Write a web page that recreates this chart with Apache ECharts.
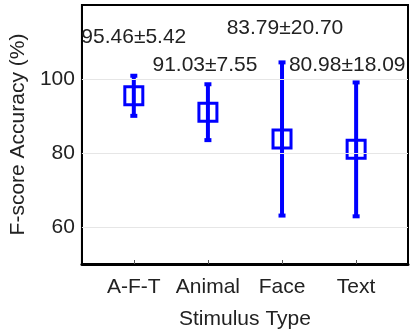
<!DOCTYPE html>
<html>
<head>
<meta charset="utf-8">
<script src="https://cdn.jsdelivr.net/npm/echarts@6/dist/echarts.min.js"></script>
<style>
html,body{margin:0;padding:0;background:#fff;}
#chart{width:410px;height:335px;}
</style>
</head>
<body>
<div id="chart"></div>
<script>
// ---- data ----
const categories = ['A-F-T', 'Animal', 'Face', 'Text'];
const means = [95.46, 91.03, 83.79, 80.98];
const stds = [5.42, 7.55, 20.70, 18.09];
const yTickLabels = [60, 80, 100];

// ---- layout (label anchors in axis coordinates) ----
const labelAnchors = [[1.0, 111.4], [1.96, 103.8], [3.04, 113.6], [3.88, 103.8]];

const FONT = '"Liberation Sans", Arial, Helvetica, sans-serif';
const BLUE = '#0000ff';
const TXT = '#222222';

const seriesData = means.map((m, i) => [i + 1, m, stds[i], i]);

function renderItem(params, api) {
  const x = api.value(0), m = api.value(1), s = api.value(2), idx = api.value(3);
  const top = api.coord([x, m + s]);
  const bot = api.coord([x, m - s]);
  const c = api.coord([x, m]);
  const half = 9;
  const capW = 7, capH = 4;
  const lbl = api.coord(labelAnchors[idx]);
  const label = m.toFixed(2) + '±' + s.toFixed(2);
  return {
    type: 'group',
    children: [
      { type: 'line', shape: { x1: c[0], y1: top[1], x2: c[0], y2: bot[1] },
        style: { stroke: BLUE, lineWidth: 4 } },
      { type: 'rect', shape: { x: c[0] - capW / 2, y: top[1] - capH / 2, width: capW, height: capH },
        style: { fill: BLUE } },
      { type: 'rect', shape: { x: c[0] - capW / 2, y: bot[1] - capH / 2, width: capW, height: capH },
        style: { fill: BLUE } },
      { type: 'rect', shape: { x: c[0] - half, y: c[1] - half, width: half * 2, height: half * 2 },
        style: { fill: 'rgba(0,0,0,0)', stroke: BLUE, lineWidth: 3 } },
      { type: 'text', x: lbl[0], y: lbl[1],
        style: { text: label, fill: TXT, font: '21px ' + FONT, align: 'center', verticalAlign: 'middle' } }
    ]
  };
}

const chart = echarts.init(document.getElementById('chart'), null, { renderer: 'canvas' });
chart.setOption({
  animation: false,
  backgroundColor: '#ffffff',
  grid: { left: 79, right: 2, top: 5, bottom: 68, show: true, borderColor: '#000', borderWidth: 2, backgroundColor: 'transparent' },
  xAxis: {
    type: 'value', min: 0.3, max: 4.7,
    name: 'Stimulus Type', nameLocation: 'middle', nameGap: 45,
    nameTextStyle: { fontFamily: FONT, fontSize: 21, color: TXT },
    axisLine: { show: true, lineStyle: { color: '#000', width: 3 } },
    axisTick: { show: true, inside: true, length: 4, customValues: [1, 2, 3, 4], lineStyle: { color: '#555', width: 1 } },
    axisLabel: { customValues: [1, 2, 3, 4], formatter: v => categories[Math.round(v) - 1] || '',
      fontFamily: FONT, fontSize: 21, color: TXT, margin: 13 },
    splitLine: { show: false }
  },
  yAxis: {
    type: 'value', min: 50, max: 120,
    name: 'F-score Accuracy (%)', nameLocation: 'middle', nameGap: 50,
    nameTextStyle: { fontFamily: FONT, fontSize: 21, color: TXT },
    axisLine: { show: true, lineStyle: { color: '#000', width: 2 } },
    axisTick: { show: true, inside: true, length: 3, customValues: yTickLabels, lineStyle: { color: '#555', width: 1 } },
    axisLabel: { customValues: yTickLabels, fontFamily: FONT, fontSize: 21, color: TXT, margin: 7 },
    splitLine: { show: false }
  },
  series: [
    {
      type: 'line', data: [], silent: true,
      markLine: {
        silent: true, symbol: 'none', label: { show: false },
        lineStyle: { color: '#e6e6e6', width: 1, type: 'solid' },
        data: yTickLabels.map(v => ({ yAxis: v }))
      }
    },
    {
      type: 'custom', renderItem: renderItem, data: seriesData, clip: false,
      encode: { x: 0, y: 1 }
    }
  ]
});
</script>
</body>
</html>
